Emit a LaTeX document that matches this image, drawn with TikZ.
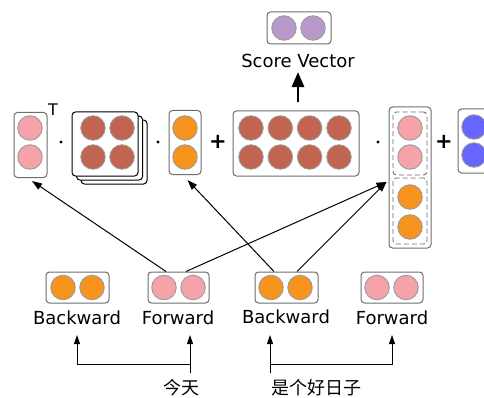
\documentclass[tikz,border=0pt]{standalone}
\usepackage{fontspec}
\setmainfont{DejaVu Sans}
\newfontfamily\cjk{Noto Sans CJK SC}
\usepackage{xcolor}
\usepackage{tikz}
\usetikzlibrary{calc}
\usetikzlibrary{arrows.meta}

\definecolor{pinkc}{RGB}{245,163,168}
\definecolor{orangec}{RGB}{247,148,29}
\definecolor{brownc}{RGB}{193,101,80}
\definecolor{purplec}{RGB}{184,153,202}
\definecolor{bluec}{RGB}{102,102,255}
\definecolor{boxgray}{RGB}{110,110,110}
\definecolor{unitgray}{RGB}{155,155,155}

\tikzset{
  box/.style={draw=boxgray, line width=1pt, rounded corners=3.5pt, fill=white, inner sep=0pt},
  blackbox/.style={box, draw=black},
  dashbox/.style={draw=boxgray, dash pattern=on 5pt off 3pt, line width=0.9pt, rounded corners=3.5pt, inner sep=0pt},
  unit/.style={circle, draw=unitgray, line width=0.9pt, minimum size=24.5pt, inner sep=0pt},
  lbl/.style={font=\fontsize{18}{20}\selectfont, inner sep=0pt},
  op/.style={font=\fontsize{21}{22}\selectfont\bfseries, inner sep=0pt},
  dotop/.style={circle, fill=black, minimum size=3.2pt, inner sep=0pt},
  arr/.style={line width=1pt, -{Triangle[length=10pt,width=7pt]}},
  smallarr/.style={line width=1pt, -{Triangle[length=9pt,width=6pt]}},
  bigarr/.style={line width=2.8pt, -{Triangle[length=15pt,width=12pt]}},
}

\begin{document}
\begin{tikzpicture}[x=1pt,y=1pt]
        \clip (0,0) rectangle (484,397);
        %SCORE
        \node[box, minimum width=64pt, minimum height=32pt] (score) at (299,369) {};
        \node[unit, fill=purplec] (s1) at (284,369) {};
        \node[unit, fill=purplec] (s2) at (313,369) {};
        \node[lbl] (scorelbl) at (298,336) {Score Vector};
        %MATRIKS
        \node[box, minimum width=33pt, minimum height=65pt] (vT) at (30.5,252) {};
        \foreach \y in {269,240} \node[unit, fill=pinkc] (vT-\y) at (30,\y) {};
        \node[font=\fontsize{16}{18}\selectfont, inner sep=0pt] (tr) at (53,287) {T};
        \node[dotop] (d1) at (61,255) {};
        \node[blackbox, minimum width=66pt, minimum height=64pt] (W3) at (114,245) {};
        \node[blackbox, minimum width=66pt, minimum height=64pt] (W2) at (109.5,249) {};
        \node[blackbox, minimum width=66pt, minimum height=64pt] (W) at (105,253) {};
        \foreach \x in {93,122} \foreach \y in {269,240} \node[unit, fill=brownc] (W-\x-\y) at (\x,\y) {};
        \node[dotop] (d2) at (158,255) {};
        \node[box, minimum width=32pt, minimum height=64pt] (hB) at (185,254.5) {};
        \foreach \y in {269,240} \node[unit, fill=orangec] (hB-\y) at (185,\y) {};
        \node[op] (p1) at (218,255) {+};
        \node[box, minimum width=126pt, minimum height=65pt] (V) at (296,253.5) {};
        \foreach \x in {251,280.3,309.6,339} \foreach \y in {269,240} \node[unit, fill=brownc] (V-\x-\y) at (\x,\y) {};
        \node[dotop] (d3) at (378,255) {};
        \node[box, minimum width=42pt, minimum height=141pt] (cat) at (410,219.5) {};
        \node[dashbox, minimum width=34pt, minimum height=63pt] (catF) at (410,253.5) {};
        \node[dashbox, minimum width=34pt, minimum height=66pt] (catB) at (410,186) {};
        \foreach \y in {269,240} \node[unit, fill=pinkc] (catF-\y) at (410,\y) {};
        \foreach \y in {200,170} \node[unit, fill=orangec] (catB-\y) at (410,\y) {};
        \node[op] (p2) at (444,255) {+};
        \node[box, minimum width=32pt, minimum height=64pt] (bias) at (474,256) {};
        \foreach \y in {270,242} \node[unit, fill=bluec] (bias-\y) at (474,\y) {};
        %PANAH ATAS
        \draw[bigarr] ($(V.north)+(2,8)$) -- ($(scorelbl.south)+(0,-4)$);
        %LSTM
        \node[box, minimum width=63pt, minimum height=31pt] (bw1) at (77.5,109.5) {};
        \node[box, minimum width=61pt, minimum height=31pt] (fw1) at (178.5,109.5) {};
        \node[box, minimum width=63pt, minimum height=31pt] (bw2) at (286.5,109.5) {};
        \node[box, minimum width=62pt, minimum height=31pt] (fw2) at (392,109.5) {};
        \node[unit, fill=orangec] (bw1-a) at (63,109.5) {};
        \node[unit, fill=orangec] (bw1-b) at (92,109.5) {};
        \node[unit, fill=pinkc] (fw1-a) at (164,109.5) {};
        \node[unit, fill=pinkc] (fw1-b) at (193,109.5) {};
        \node[unit, fill=orangec] (bw2-a) at (271,109.5) {};
        \node[unit, fill=orangec] (bw2-b) at (300,109.5) {};
        \node[unit, fill=pinkc] (fw2-a) at (377,109.5) {};
        \node[unit, fill=pinkc] (fw2-b) at (406,109.5) {};
        \node[lbl] (bw1lbl) at (77,79) {Backward};
        \node[lbl] (fw1lbl) at (178,79) {Forward};
        \node[lbl] (bw2lbl) at (286,80) {Backward};
        \node[lbl] (fw2lbl) at (392,79) {Forward};
        %PANAH DIAGONAL
        \draw[arr] ($(fw1.north)+(-12.5,0)$) -- ($(vT.south)+(1.5,-3)$);
        \draw[arr] ($(fw1.north)+(7.5,0)$) -- ($(cat.west)+(-2,-4.5)$);
        \draw[arr] ($(bw2.north)+(-12.5,0)$) -- ($(hB.south)+(2.5,-5)$);
        \draw[arr] ($(bw2.north)+(10.5,0)$) -- ($(cat.west)+(-2,-4.5)$);
        %KATA
        \node[lbl, font=\fontsize{18}{20}\cjk] (w1) at (181,9) {今天};
        \node[lbl, font=\fontsize{18}{20}\cjk] (w2) at (316,9) {是个好日子};
        \coordinate (r1) at (190,24);
        \coordinate (j1) at (190,33);
        \coordinate (t1) at (190,62);
        \coordinate (t2) at (77,62);
        \coordinate (r2) at (270,24);
        \coordinate (j2) at (270,33);
        \coordinate (t3) at (270,62);
        \coordinate (t4) at (392,62);
        \draw[smallarr] (r1) -- (t1);
        \draw[smallarr] (j1) -| (t2);
        \draw[smallarr] (r2) -- (t3);
        \draw[smallarr] (j2) -| (t4);
    \end{tikzpicture}
\end{document}
